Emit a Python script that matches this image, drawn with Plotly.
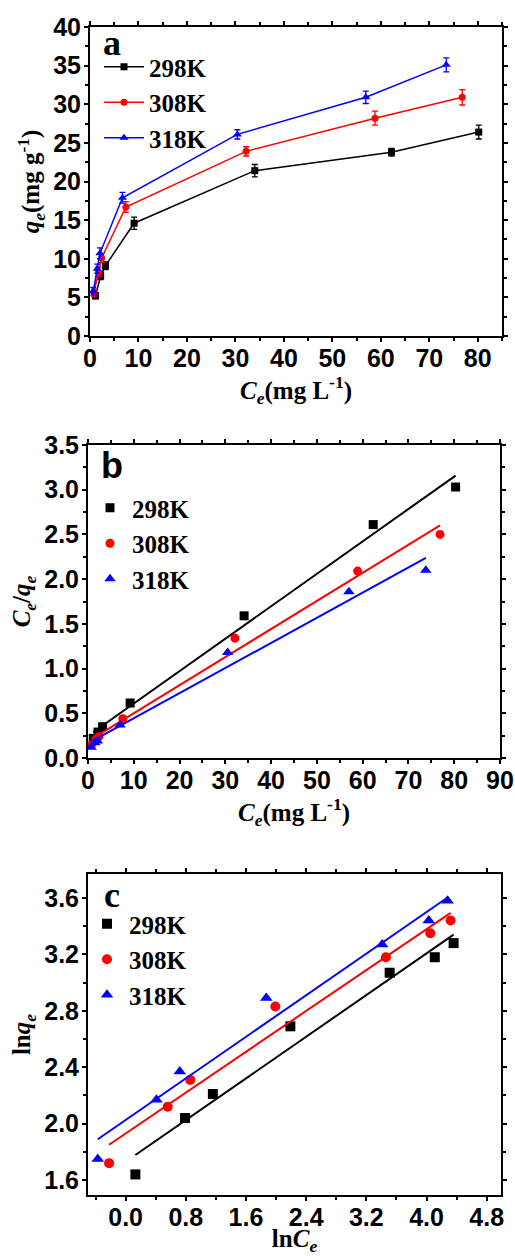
import numpy as np
import plotly.graph_objects as go

# ---------------- data ----------------
temps = ["298K", "308K", "318K"]
colors = ["#000000", "#FF0000", "#0000FF"]
symbols = ["square", "circle", "triangle-up"]

# Panel a: qe vs Ce (with error bars)
ce_a_298 = [1.14, 2.2, 3.2, 9.1, 34.0, 62.2, 80.2]
qe_a_298 = [5.2, 7.8, 9.1, 14.6, 21.4, 23.8, 26.4]
err_a_298 = [0.4, 0.5, 0.5, 0.8, 0.8, 0.5, 0.9]
ce_a_308 = [0.8, 1.75, 2.4, 7.4, 32.2, 58.8, 76.8]
qe_a_308 = [5.6, 8.3, 10.1, 16.7, 23.9, 28.2, 30.9]
err_a_308 = [0.5, 0.6, 0.6, 0.7, 0.6, 0.9, 1.0]
ce_a_318 = [0.69, 1.5, 2.05, 6.7, 30.4, 56.9, 73.5]
qe_a_318 = [5.8, 8.7, 10.7, 17.9, 26.1, 30.9, 35.1]
err_a_318 = [0.5, 0.6, 0.7, 0.7, 0.6, 0.8, 0.9]

# Panel b: Ce/qe vs Ce
ce_b_298 = [1.14, 2.2, 3.2, 9.2, 34.1, 62.3, 80.3]
cq_b_298 = [0.22, 0.29, 0.35, 0.615, 1.59, 2.61, 3.03]
ce_b_308 = [0.8, 1.75, 2.4, 7.6, 32.1, 58.9, 76.9]
cq_b_308 = [0.15, 0.21, 0.24, 0.44, 1.34, 2.09, 2.50]
ce_b_318 = [0.69, 1.5, 2.05, 7.0, 30.5, 57.0, 73.8]
cq_b_318 = [0.12, 0.17, 0.19, 0.37, 1.18, 1.86, 2.10]

# Panel c: ln qe vs ln Ce
lnce_c_298 = [0.13, 0.79, 1.16, 2.19, 3.51, 4.11, 4.36]
lnqe_c_298 = [1.64, 2.04, 2.21, 2.69, 3.07, 3.18, 3.28]
lnce_c_308 = [-0.22, 0.56, 0.86, 1.99, 3.46, 4.05, 4.32]
lnqe_c_308 = [1.72, 2.12, 2.31, 2.83, 3.18, 3.35, 3.44]
lnce_c_318 = [-0.37, 0.41, 0.72, 1.87, 3.41, 4.03, 4.28]
lnqe_c_318 = [1.75, 2.17, 2.37, 2.89, 3.27, 3.44, 3.58]

panel_a = [(ce_a_298, qe_a_298, err_a_298), (ce_a_308, qe_a_308, err_a_308), (ce_a_318, qe_a_318, err_a_318)]
panel_b = [(ce_b_298, cq_b_298), (ce_b_308, cq_b_308), (ce_b_318, cq_b_318)]
panel_c = [(lnce_c_298, lnqe_c_298), (lnce_c_308, lnqe_c_308), (lnce_c_318, lnqe_c_318)]

W, H = 515, 1256
SERIF = "Liberation Serif"
SANS = "Arial, Liberation Sans"

fig = go.Figure()

msize = {"square": 7, "circle": 7, "triangle-up": 8}

# Panel a
for (x, y, e), name, c, s in zip(panel_a, temps, colors, symbols):
    fig.add_trace(go.Scatter(
        x=x, y=y, name=name, mode="lines+markers",
        line=dict(color=c, width=1.5),
        marker=dict(symbol=s, size=msize[s], color=c),
        error_y=dict(type="data", array=e, visible=True, color=c, thickness=1.3, width=3),
        xaxis="x", yaxis="y", legend="legend"))

# Panel b
for (x, y), name, c, s in zip(panel_b, temps, colors, symbols):
    fig.add_trace(go.Scatter(
        x=x, y=y, name=name, mode="markers",
        marker=dict(symbol=s, size=msize[s] + 2, color=c),
        xaxis="x2", yaxis="y2", legend="legend2"))
    k, b = np.polyfit(x, y, 1)
    xs = np.array([min(x), max(x)])
    fig.add_trace(go.Scatter(
        x=xs, y=k * xs + b, mode="lines", line=dict(color=c, width=2),
        showlegend=False, hoverinfo="skip", xaxis="x2", yaxis="y2"))

# Panel c
for (x, y), name, c, s in zip(panel_c, temps, colors, symbols):
    fig.add_trace(go.Scatter(
        x=x, y=y, name=name, mode="markers",
        marker=dict(symbol=s, size=msize[s] + 3, color=c),
        xaxis="x3", yaxis="y3", legend="legend3"))
    k, b = np.polyfit(x, y, 1)
    xs = np.array([min(x), max(x)])
    fig.add_trace(go.Scatter(
        x=xs, y=k * xs + b, mode="lines", line=dict(color=c, width=2),
        showlegend=False, hoverinfo="skip", xaxis="x3", yaxis="y3"))


def px_x(p):
    return p / W


def px_y(p):
    return 1 - p / H


tickfont = dict(family=SANS, size=25, color="black", weight=900)
titlefont = dict(family=SERIF, size=25, color="black", weight="bold")
legfont = dict(family=SERIF, size=25, color="black", weight="bold")


def axis(domain, rng, dtick, mdtick, title, standoff, tick0=0, fmt=None, anchor=None, lab_off=0):
    d = dict(
        domain=domain, range=rng, tick0=tick0, dtick=dtick,
        showline=True, linewidth=2, linecolor="black", mirror="ticks",
        ticks="outside", ticklen=4, tickwidth=1.5, tickcolor="black",
        minor=dict(ticks="outside", ticklen=3, tickwidth=1.5, tickcolor="black", dtick=mdtick, tick0=tick0, showgrid=False),
        showgrid=False, zeroline=False, tickfont=tickfont,
        tickprefix="<b>", ticksuffix="</b>", ticklabelstandoff=lab_off,
        title=dict(text=title, font=titlefont, standoff=standoff),
        automargin=False, anchor=anchor, fixedrange=True)
    if fmt:
        d["tickformat"] = fmt
    return d


xa = [px_x(90), px_x(502)]
xb = [px_x(88), px_x(500)]
xc = [px_x(88), px_x(501)]
ya = [px_y(336), px_y(27)]
yb = [px_y(758), px_y(445)]
yc = [px_y(1195), px_y(874)]

xtitle = "<i>C</i><sub><i>e</i></sub>(mg L<sup>-1</sup>)"

fig.update_layout(
    width=W, height=H,
    margin=dict(l=0, r=0, t=0, b=0),
    paper_bgcolor="white", plot_bgcolor="white",
    showlegend=True,
    xaxis=axis(xa, [0, 85], 10, 5, xtitle, 10, anchor="y", lab_off=-5),
    yaxis=axis(ya, [0, 40], 5, 2.5, "<i>q</i><sub><i>e</i></sub>(mg g<sup>-1</sup>)", 6, anchor="x", lab_off=-2),
    xaxis2=axis(xb, [0, 90], 10, 5, xtitle, 1, anchor="y2", lab_off=-5),
    yaxis2=axis(yb, [0, 3.5], 0.5, 0.25, "<i>C</i><sub><i>e</i></sub>/<i>q</i><sub><i>e</i></sub>", 6, fmt=".1f", anchor="x2", lab_off=-2),
    xaxis3=axis(xc, [-0.5, 4.99], 0.8, 0.4, "ln<i>C</i><sub><i>e</i></sub>", 13, fmt=".1f", anchor="y3", lab_off=-5),
    yaxis3=axis(yc, [1.494, 3.77], 0.4, 0.2, "ln<i>q</i><sub><i>e</i></sub>", 6, fmt=".1f", anchor="x3", lab_off=-2),
    legend=dict(x=px_x(99), y=px_y(44), xanchor="left", yanchor="top", itemwidth=40,
                bgcolor="rgba(0,0,0,0)", font=legfont),
    legend2=dict(x=px_x(88), y=px_y(485), xanchor="left", yanchor="top", itemwidth=34,
                 bgcolor="rgba(0,0,0,0)", font=legfont),
    legend3=dict(x=px_x(85), y=px_y(901), xanchor="left", yanchor="top", itemwidth=34,
                 bgcolor="rgba(0,0,0,0)", font=legfont),
    annotations=[
        dict(text="a", x=px_x(101), y=px_y(43), xref="paper", yref="paper", xanchor="left", yanchor="middle",
             showarrow=False, font=dict(family=SERIF, size=36, color="black", weight="bold")),
        dict(text="b", x=px_x(99), y=px_y(466), xref="paper", yref="paper", xanchor="left", yanchor="middle",
             showarrow=False, font=dict(family=SANS, size=36, color="black", weight="bold")),
        dict(text="c", x=px_x(102), y=px_y(895), xref="paper", yref="paper", xanchor="left", yanchor="middle",
             showarrow=False, font=dict(family=SERIF, size=36, color="black", weight="bold")),
    ],
)

fig.write_html("out.html")
